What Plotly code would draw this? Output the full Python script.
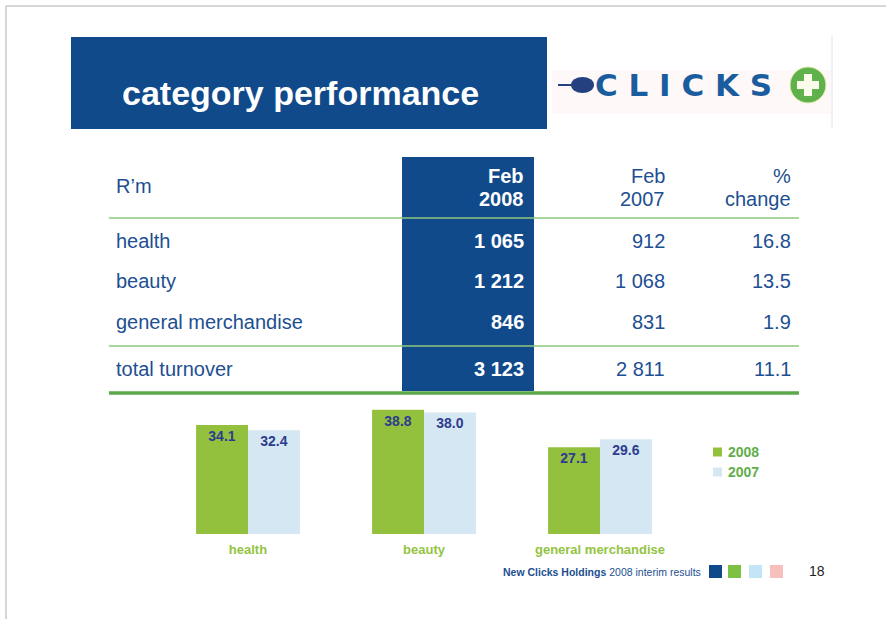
import plotly.graph_objects as go

W, H = 886, 619
FONT = "Arial, Liberation Sans, sans-serif"

# ---------------- data ----------------
categories = ["health", "beauty", "general merchandise"]
turnover_2008 = [1065, 1212, 846]
turnover_2007 = [912, 1068, 831]
pct_change = [16.8, 13.5, 1.9]
total_label = "total turnover"
total_2008 = 3123
total_2007 = 2811
total_pct = 11.1

share_2008 = [34.1, 38.8, 27.1]
share_2007 = [32.4, 38.0, 29.6]
series_names = ["2008", "2007"]

# ---------------- colours ----------------
NAVY = "#114A8B"
TXT = "#1D4F91"
GREEN_BAR = "#93C13E"
LBLUE_BAR = "#D5E7F2"
LABEL_DARK = "#2E3C8E"
GREEN_TXT = "#62AE48"
CAT_GREEN = "#93C43F"


def px(x):
    return x / W


def py(y):
    return 1 - y / H


def fmt_int(v):
    return f"{v:,}".replace(",", " ")


fig = go.Figure()

fig.add_trace(go.Bar(
    x=categories, y=share_2008, name=series_names[0],
    marker=dict(color=GREEN_BAR, line=dict(width=0)),
    texttemplate="%{y:.1f}", textposition="inside", insidetextanchor="end",
    textangle=0, constraintext="none",
    textfont=dict(family=FONT, size=14, color=LABEL_DARK, weight="bold"),
    showlegend=False, hoverinfo="skip",
))
fig.add_trace(go.Bar(
    x=categories, y=share_2007, name=series_names[1],
    marker=dict(color=LBLUE_BAR, line=dict(width=0)),
    texttemplate="%{y:.1f}", textposition="inside", insidetextanchor="end",
    textangle=0, constraintext="none",
    textfont=dict(family=FONT, size=14, color=LABEL_DARK, weight="bold"),
    showlegend=False, hoverinfo="skip",
))

shapes = []
annotations = []


def rect(x0, y0, x1, y1, color, layer="below"):
    shapes.append(dict(type="rect", xref="paper", yref="paper",
                       x0=px(x0), x1=px(x1), y0=py(y1), y1=py(y0),
                       fillcolor=color, line=dict(width=0), layer=layer))


def hline(x0, x1, y, color, width):
    shapes.append(dict(type="line", xref="paper", yref="paper",
                       x0=px(x0), x1=px(x1), y0=py(y), y1=py(y),
                       line=dict(color=color, width=width)))


def vline(x, y0, y1, color, width):
    shapes.append(dict(type="line", xref="paper", yref="paper",
                       x0=px(x), x1=px(x), y0=py(y0), y1=py(y1),
                       line=dict(color=color, width=width)))


def ann(text, x, y, size, color, xanchor="left", bold=False, family=FONT):
    annotations.append(dict(
        x=px(x), y=py(y), xref="paper", yref="paper", text=text,
        showarrow=False, xanchor=xanchor, yanchor="middle",
        font=dict(family=family, size=size, color=color,
                  weight="bold" if bold else "normal")))


# slide border
vline(6, 6, 619, "#C8C8C8", 1.5)
hline(6, 886, 6, "#C8C8C8", 1.5)

# title box
rect(71, 37, 547, 129, NAVY)
ann("category performance", 120, 93, 34, "white", bold=True)

# logo
rect(552, 70, 831, 114, "#FEF9F8")
vline(832, 35, 128, "#DCE6F2", 1)
shapes.append(dict(type="circle", xref="paper", yref="paper",
                   x0=px(571), x1=px(594), y0=py(93), y1=py(77),
                   fillcolor="#24407E", line=dict(width=0)))
hline(558, 575, 85, "#24407E", 2)
ann("C L I C K S", 593, 85, 31, "#1B5C9E", bold=True, family="DejaVu Sans")
shapes.append(dict(type="circle", xref="paper", yref="paper",
                   x0=px(790), x1=px(826), y0=py(103), y1=py(67),
                   fillcolor="#5FB14C", line=dict(color="#E8EDB0", width=1)))
rect(797, 81, 819, 89, "#FAFBEA", layer="above")
rect(804, 74, 812, 96, "#FAFBEA", layer="above")

# table
rect(402, 157, 534, 391, NAVY)
ann("R’m", 114, 186, 20, TXT)
ann("Feb", 526, 176, 20, "white", xanchor="right", bold=True)
ann("2008", 526, 199, 20, "white", xanchor="right", bold=True)
ann("Feb", 667, 176, 20, TXT, xanchor="right")
ann("2007", 667, 199, 20, TXT, xanchor="right")
ann("%", 793, 176, 20, TXT, xanchor="right")
ann("change", 793, 199, 20, TXT, xanchor="right")
hline(109, 799, 218, "#8CC97A", 1.5)

row_y = [241, 281, 322]
for cat, a, b, p, y in zip(categories, turnover_2008, turnover_2007, pct_change, row_y):
    ann(cat, 114, y, 20, TXT)
    ann(fmt_int(a), 526, y, 20, "white", xanchor="right", bold=True)
    ann(fmt_int(b), 667, y, 20, TXT, xanchor="right")
    ann(f"{p:.1f}", 793, y, 20, TXT, xanchor="right")

hline(109, 799, 346, "#8CC97A", 1.5)
ann(total_label, 114, 369, 20, TXT)
ann(fmt_int(total_2008), 526, 369, 20, "white", xanchor="right", bold=True)
ann(fmt_int(total_2007), 667, 369, 20, TXT, xanchor="right")
ann(f"{total_pct:.1f}", 793, 369, 20, TXT, xanchor="right")
hline(109, 799, 393, "#5DA84B", 3.5)

# manual legend
for name, col, y in zip(series_names, [GREEN_BAR, LBLUE_BAR], [452, 472]):
    rect(713, y - 4.5, 722, y + 4.5, col)
    ann(name, 726, y, 14, GREEN_TXT, bold=True)

# footer
ann("<b>New Clicks Holdings</b> 2008 interim results", 703, 572, 10.5, TXT, xanchor="right")
for x0, col in zip([709, 728, 749, 770], [NAVY, "#7CC142", "#C4E4F7", "#F8C0BC"]):
    rect(x0, 565, x0 + 13, 578, col)
ann("18", 807, 571, 14, "#222222")

fig.update_layout(
    width=W, height=H,
    margin=dict(l=0, r=0, t=0, b=0),
    paper_bgcolor="white", plot_bgcolor="white",
    barmode="group", bargap=0.41, bargroupgap=0,
    xaxis=dict(domain=[px(160), px(688)], showgrid=False, zeroline=False,
               showline=False, ticks="outside", ticklen=3,
               tickcolor="rgba(0,0,0,0)",
               tickfont=dict(family=FONT, size=13, color=CAT_GREEN, weight="bold")),
    yaxis=dict(domain=[py(534), py(406)], range=[0, 40], visible=False,
               showgrid=False, zeroline=False),
    shapes=shapes, annotations=annotations,
    showlegend=False,
)

fig.write_html("out.html", config={"displayModeBar": False},
               post_script="document.body.style.margin='0';document.body.style.padding='0';")
